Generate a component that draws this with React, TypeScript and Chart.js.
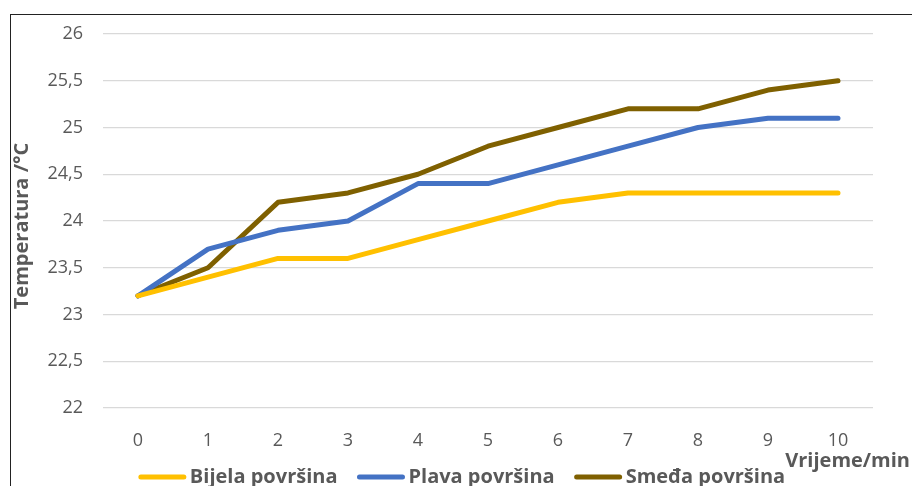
import React, { useEffect, useRef } from "react";
import { Chart, registerables } from "chart.js";

Chart.register(...registerables);

const categories = ["0", "1", "2", "3", "4", "5", "6", "7", "8", "9", "10"];
const bijela = [23.2, 23.4, 23.6, 23.6, 23.8, 24.0, 24.2, 24.3, 24.3, 24.3, 24.3];
const plava = [23.2, 23.7, 23.9, 24.0, 24.4, 24.4, 24.6, 24.8, 25.0, 25.1, 25.1];
const smeda = [23.2, 23.5, 24.2, 24.3, 24.5, 24.8, 25.0, 25.2, 25.2, 25.4, 25.5];
const seriesNames = ["Bijela površina", "Plava površina", "Smeđa površina"];
const seriesColors = ["#FFC000", "#4472C4", "#7F6000"];
const yTitle = "Temperatura /°C";
const xTitle = "Vrijeme/min";

const FONT = "'Open Sans', sans-serif";

export default function App() {
  const ref = useRef<HTMLCanvasElement | null>(null);
  useEffect(() => {
    document.body.style.margin = "0";
    const titlesPlugin = {
      id: "titlesPlugin",
      afterDraw(chart: any) {
        const ctx = chart.ctx;
        ctx.save();
        ctx.font = `bold 20px ${FONT}`;
        ctx.fillStyle = "#595959";
        ctx.textBaseline = "middle";
        ctx.textAlign = "right";
        ctx.fillText(xTitle, 899, 446);
        // legend
        const boxW = 47;
        const gap = 4;
        const itemGap = 20;
        const widths = chart.data.datasets.map((ds: any) => boxW + gap + ctx.measureText(ds.label).width);
        const total = widths.reduce((a: number, b: number) => a + b, 0) + itemGap * (widths.length - 1);
        let x = 451 - total / 2;
        const ly = 462;
        ctx.textAlign = "left";
        chart.data.datasets.forEach((ds: any, i: number) => {
          ctx.strokeStyle = ds.borderColor;
          ctx.lineWidth = 5;
          ctx.lineCap = "round";
          ctx.beginPath();
          ctx.moveTo(x + 2, ly);
          ctx.lineTo(x + boxW - 2, ly);
          ctx.stroke();
          ctx.fillStyle = "#595959";
          ctx.fillText(ds.label, x + boxW + gap, ly);
          x += widths[i] + itemGap;
        });
        // y title
        ctx.translate(11, 211);
        ctx.rotate(-Math.PI / 2);
        ctx.textAlign = "center";
        ctx.fillText(yTitle, 0, 0);
        ctx.restore();
      },
    };
    const data = [bijela, plava, smeda];
    const chart = new Chart(ref.current!, {
      type: "line",
      data: {
        labels: categories,
        datasets: data.map((d, i) => ({
          label: seriesNames[i],
          data: d,
          borderColor: seriesColors[i],
          backgroundColor: seriesColors[i],
          borderWidth: 5,
          pointRadius: 0,
          borderCapStyle: "round" as const,
          borderJoinStyle: "round" as const,
          tension: 0,
        })),
      },
      options: {
        animation: false,
        responsive: false,
        layout: { padding: { top: 19, right: 39, left: 0, bottom: 24 } },
        plugins: {
          legend: { display: false },
          tooltip: { enabled: false },
        },
        scales: {
          x: {
            offset: true,
            grid: { display: false },
            border: { display: false },
            ticks: { color: "#595959", font: { family: FONT, size: 18 }, padding: 14 },
            afterFit(scale: any) {
              scale.height = 58;
              scale.paddingLeft = 0;
              scale.paddingRight = 0;
            },
          },
          y: {
            min: 22,
            max: 26,
            ticks: {
              stepSize: 0.5,
              color: "#595959",
              font: { family: FONT, size: 18 },
              padding: 20,
              callback: (v: any) => String(v).replace(".", ","),
            },
            grid: { color: "#D9D9D9", lineWidth: 1.3, drawTicks: false },
            border: { display: false },
            afterFit(scale: any) {
              scale.width = 92;
              scale.paddingTop = 0;
              scale.paddingBottom = 0;
            },
          },
        },
      },
      plugins: [titlesPlugin],
    } as any);
    return () => chart.destroy();
  }, []);
  return (
    <div
      style={{
        marginLeft: 10,
        marginTop: 14,
        borderLeft: "1px solid #222",
        borderTop: "1px solid #222",
        width: 901,
        height: 475,
      }}
    >
      <canvas ref={ref} width={901} height={475} style={{ display: "block" }} />
    </div>
  );
}
